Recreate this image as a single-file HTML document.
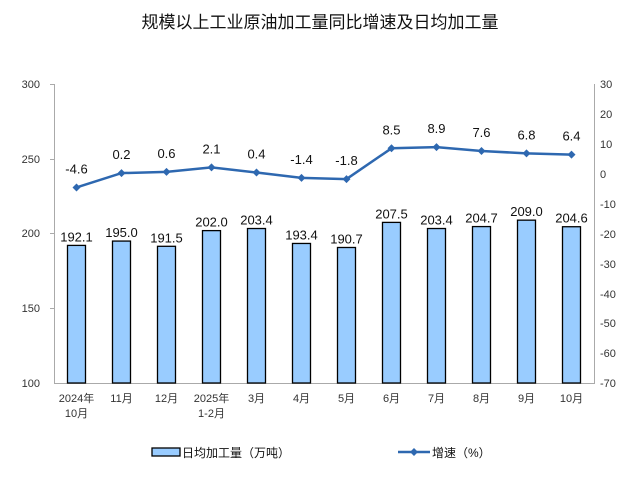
<!DOCTYPE html>
<html><head><meta charset="utf-8"><style>
body{margin:0;background:#fff}
svg text{font-family:"Liberation Sans","Noto Sans CJK SC",sans-serif}
</style></head><body>
<svg width="640" height="474" xmlns="http://www.w3.org/2000/svg">
<text x="320" y="28" font-size="17" text-anchor="middle" fill="#111">规模以上工业原油加工量同比增速及日均加工量</text>
<g font-size="11" fill="#333" font-family="Liberation Serif,serif">
<text x="40" y="88" text-anchor="end">300</text>
<text x="40" y="163" text-anchor="end">250</text>
<text x="40" y="237" text-anchor="end">200</text>
<text x="40" y="312" text-anchor="end">150</text>
<text x="40" y="387" text-anchor="end">100</text>
</g>
<g font-size="11" fill="#333" text-anchor="start">
<text x="600" y="88">30</text><text x="600" y="118">20</text><text x="600" y="148">10</text><text x="600" y="178">0</text>
<text x="600" y="208">-10</text><text x="600" y="238">-20</text><text x="600" y="268">-30</text><text x="600" y="298">-40</text>
<text x="600" y="327">-50</text><text x="600" y="357">-60</text><text x="600" y="387">-70</text>
</g>
<g stroke="#aaa" stroke-width="1">
<line x1="54.5" y1="84" x2="54.5" y2="383"/>
<line x1="594.5" y1="84" x2="594.5" y2="383"/>
<line x1="54" y1="383.5" x2="595" y2="383.5"/>
<line x1="50" y1="84.5" x2="54" y2="84.5"/><line x1="50" y1="159.5" x2="54" y2="159.5"/><line x1="50" y1="233.5" x2="54" y2="233.5"/><line x1="50" y1="308.5" x2="54" y2="308.5"/>
</g>
<g id="bars" fill="#99ccff" stroke="#000" stroke-width="1.3"></g>
<g id="bl" font-size="13" fill="#111" text-anchor="middle"></g>
<polyline id="ln" fill="none" stroke="#2e68b0" stroke-width="2.5"/>
<g id="mk" fill="#2e68b0"></g>
<g id="ll" font-size="13" fill="#111" text-anchor="middle"></g>
<g id="xl" font-size="11" fill="#333" text-anchor="middle"></g>
<rect x="152" y="448" width="28" height="8" fill="#99ccff" stroke="#000" stroke-width="1.3"/>
<text x="182" y="457" font-size="12" fill="#111">日均加工量（万吨）</text>
<line x1="398" y1="452" x2="430" y2="452" stroke="#2e68b0" stroke-width="2.5"/>
<path d="M414 448l4 4-4 4-4-4z" fill="#2e68b0"/>
<text x="432" y="457" font-size="12" fill="#111">增速（%）</text>
</svg>
<script>
var b=[192.1,195.0,191.5,202.0,203.4,193.4,190.7,207.5,203.4,204.7,209.0,204.6];
var g=[-4.6,0.2,0.6,2.1,0.4,-1.4,-1.8,8.5,8.9,7.6,6.8,6.4];
var xl=[["2024年","10月"],["11月"],["12月"],["2025年","1-2月"],["3月"],["4月"],["5月"],["6月"],["7月"],["8月"],["9月"],["10月"]];
var ns="http://www.w3.org/2000/svg",pts=[];
function el(p,t,a,tx){var e=document.createElementNS(ns,t);for(var k in a)e.setAttribute(k,a[k]);if(tx)e.textContent=tx;document.getElementById(p).appendChild(e);}
for(var i=0;i<12;i++){var cx=76.5+45*i;var yb=383-(b[i]-100)*1.494;
el("bars","rect",{x:cx-9,y:yb,width:18,height:383-yb});
el("bl","text",{x:cx,y:yb-4},b[i].toFixed(1));
var yl=84+(30-g[i])*2.99;pts.push(cx+","+yl);
el("mk","path",{d:"M"+cx+" "+(yl-4)+"l4 4-4 4-4-4z"});
el("ll","text",{x:cx,y:yl-14},g[i].toFixed(1));
for(var j=0;j<xl[i].length;j++)el("xl","text",{x:cx,y:402+j*15},xl[i][j]);}
document.getElementById("ln").setAttribute("points",pts.join(" "));
</script>
</body></html>
